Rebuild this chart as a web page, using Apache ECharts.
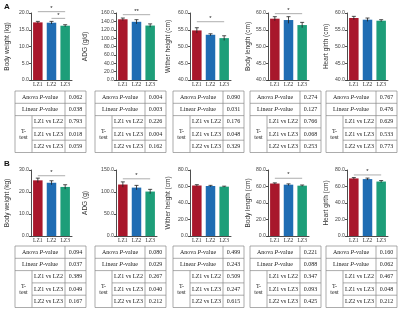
<!DOCTYPE html>
<html>
<head>
<meta charset="utf-8">
<script src="https://cdn.jsdelivr.net/npm/echarts@6/dist/echarts.min.js"></script>
<style>
  html, body { margin: 0; padding: 0; background: #fff; }
  #chart { width: 400px; height: 312px; }
</style>
</head>
<body>
<div id="chart"></div>
<script>
// groups and colours
const groups = ["LZ1", "LZ2", "LZ3"];
const barColors = ["#A8172B", "#1F6DB3", "#1D9E79"];

// panel A
const namesA = ["Body weight (kg)", "ADG (g/d)", "Wither height (cm)", "Body length (cm)", "Heart girth (cm)"];
const meansA = [[17.2, 17.1, 16.2], [145, 139, 130], [54.8, 53.5, 52.5], [58.3, 57.9, 56.4], [58.5, 58.0, 57.7]];
const errA = [[0.3, 0.4, 0.3], [3, 5, 4], [0.8, 0.3, 0.7], [0.6, 1.0, 0.8], [0.5, 0.5, 0.3]];
const minA = [0, 0, 40, 40, 40];
const maxA = [20, 160, 60, 60, 60];
const stepA = [5, 20, 5, 5, 5];
const sigA = [[[0, 2, 20.4, "*"], [1, 2, 18.4, "*"]], [[0, 2, 156, "**"]], [[0, 2, 57.4, "*"]], [[0, 2, 59.8, "*"]], []];

// panel B
const namesB = ["Body weight (kg)", "ADG (g)", "Wither height (cm)", "Body length (cm)", "Heart girth (cm)"];
const meansB = [[25.3, 24.2, 22.3], [117, 110, 101], [61.2, 60.6, 59.8], [63.6, 62.2, 61.0], [69.8, 69.0, 66.0]];
const errB = [[1.0, 0.9, 1.0], [6, 5, 5], [1.0, 0.8, 0.6], [0.8, 1.0, 0.8], [1.0, 1.2, 1.2]];
const minB = [0, 0, 0, 0, 0];
const maxB = [30, 150, 80, 80, 80];
const stepB = [10, 50, 20, 20, 20];
const sigB = [[[0, 2, 27.4, "*"]], [[0, 2, 130, "*"]], [], [[0, 2, 70, "*"]], [[0, 2, 74, "*"]]];

// p-value tables
const anovaA = ["0.062", "0.004", "0.090", "0.274", "0.767"];
const linearA = ["0.038", "0.003", "0.031", "0.127", "0.476"];
const t12A = ["0.793", "0.226", "0.176", "0.766", "0.629"];
const t13A = ["0.018", "0.004", "0.048", "0.068", "0.533"];
const t23A = ["0.059", "0.162", "0.329", "0.253", "0.773"];
const anovaB = ["0.094", "0.080", "0.499", "0.221", "0.160"];
const linearB = ["0.037", "0.029", "0.243", "0.088", "0.062"];
const t12B = ["0.389", "0.267", "0.509", "0.347", "0.467"];
const t13B = ["0.049", "0.040", "0.247", "0.093", "0.048"];
const t23B = ["0.167", "0.212", "0.615", "0.425", "0.212"];

const chart = echarts.init(document.getElementById("chart"), null, { renderer: "canvas" });

const xLeft = [31, 116, 190, 268, 347];
const nameGaps = [20, 27, 18, 16, 17];
const rows = [
  { top: 13, height: 67, names: namesA, means: meansA, err: errA, min: minA, max: maxA, step: stepA, sig: sigA },
  { top: 170, height: 66, names: namesB, means: meansB, err: errB, min: minB, max: maxB, step: stepB, sig: sigB },
];

const grid = [], xAxis = [], yAxis = [], series = [];

rows.forEach((r, ri) => {
  for (let c = 0; c < 5; c++) {
    const k = ri * 5 + c;
    grid.push({ left: xLeft[c], top: r.top, width: 41, height: r.height });
    xAxis.push({
      type: "category", gridIndex: k, data: groups,
      axisLine: { lineStyle: { color: "#222", width: 0.8 } },
      axisTick: { show: false },
      axisLabel: { fontSize: 5.5, fontFamily: "Liberation Serif", color: "#333", margin: 2 },
    });
    yAxis.push({
      type: "value", gridIndex: k, min: r.min[c], max: r.max[c], interval: r.step[c],
      name: r.names[c], nameLocation: "middle", nameRotate: 90, nameGap: nameGaps[c],
      nameTextStyle: { fontSize: 6.5, fontFamily: "Liberation Sans", color: "#333" },
      axisLine: { show: true, lineStyle: { color: "#222", width: 0.8 } },
      axisTick: { show: true, length: 2, lineStyle: { color: "#222", width: 0.8 } },
      axisLabel: { fontSize: 5.2, fontFamily: "Liberation Sans", color: "#444", margin: 2,
        formatter: (v) => v.toFixed(1) },
      splitLine: { show: false },
    });
    series.push({
      type: "bar", xAxisIndex: k, yAxisIndex: k, barWidth: 9.5,
      data: r.means[c].map((v, i) => ({ value: v, itemStyle: { color: barColors[i] } })),
    });
    // error bars
    series.push({
      type: "custom", xAxisIndex: k, yAxisIndex: k, z: 5,
      data: r.means[c].map((v, i) => [i, v, r.err[c][i]]),
      encode: { x: 0, y: 1 },
      renderItem: (params, api) => {
        const i = api.value(0), m = api.value(1), s = api.value(2);
        const hi = api.coord([i, m + s]);
        const lo = api.coord([i, m - s]);
        const st = { stroke: "#222", lineWidth: 0.8 };
        return {
          type: "group", children: [
            { type: "line", shape: { x1: hi[0], y1: hi[1], x2: lo[0], y2: lo[1] }, style: st },
            { type: "line", shape: { x1: hi[0] - 2, y1: hi[1], x2: hi[0] + 2, y2: hi[1] }, style: st },
          ],
        };
      },
    });
    // significance brackets
    const sg = r.sig[c];
    if (sg.length) {
      series.push({
        type: "custom", xAxisIndex: k, yAxisIndex: k, z: 6, clip: false,
        data: sg.map((s) => [s[0], s[2], s[1]]),
        encode: { x: 0, y: 1 },
        renderItem: (params, api) => {
          const s = sg[params.dataIndex];
          const p1 = api.coord([s[0], s[2]]);
          const p2 = api.coord([s[1], s[2]]);
          return {
            type: "group", children: [
              { type: "line", shape: { x1: p1[0], y1: p1[1], x2: p2[0], y2: p2[1] },
                style: { stroke: "#999", lineWidth: 0.8 } },
              { type: "text", x: (p1[0] + p2[0]) / 2, y: p1[1] - 0.5,
                style: { text: s[3], fontSize: 6, fill: "#222", align: "center", verticalAlign: "bottom" } },
            ],
          };
        },
      });
    }
  }
});

// tables drawn with graphic elements
const tableX = [15, 95, 173, 250, 326];
const tableW = 71, labelW = 50, tW = 17, rowH = 12.3;
const tables = [
  { top: 91, vals: [anovaA, linearA, t12A, t13A, t23A] },
  { top: 246, vals: [anovaB, linearB, t12B, t13B, t23B] },
];
const rowLabels = ["Anova {i|P}-value", "Linear {i|P}-value", "LZ1 vs LZ2", "LZ1 vs LZ3", "LZ2 vs LZ3"];
const graphic = [];
const lineSt = { stroke: "#888", lineWidth: 0.7 };
const txt = (x, y, text) => ({
  type: "text", x: x, y: y, silent: true,
  style: { text: text, fontSize: 6, fontFamily: "Liberation Serif", fill: "#222",
    align: "center", verticalAlign: "middle",
    rich: { i: { fontStyle: "italic", fontSize: 6, fontFamily: "Liberation Serif", fill: "#222" } } },
});
tables.forEach((t) => {
  tableX.forEach((x0, c) => {
    const h = rowH * 5;
    graphic.push({ type: "rect", shape: { x: x0, y: t.top, width: tableW, height: h }, style: { fill: "none", ...lineSt } });
    graphic.push({ type: "line", shape: { x1: x0 + labelW, y1: t.top, x2: x0 + labelW, y2: t.top + h }, style: lineSt });
    graphic.push({ type: "line", shape: { x1: x0 + tW, y1: t.top + rowH * 2, x2: x0 + tW, y2: t.top + h }, style: lineSt });
    for (let r = 1; r < 5; r++) {
      const y = t.top + rowH * r;
      const xs = r >= 3 ? x0 + tW : x0;
      graphic.push({ type: "line", shape: { x1: xs, y1: y, x2: x0 + tableW, y2: y }, style: lineSt });
    }
    for (let r = 0; r < 5; r++) {
      const yc = t.top + rowH * (r + 0.5);
      const lx = r < 2 ? x0 + labelW / 2 : x0 + tW + (labelW - tW) / 2;
      graphic.push(txt(lx, yc, rowLabels[r]));
      graphic.push(txt(x0 + labelW + (tableW - labelW) / 2, yc, t.vals[r][c]));
    }
    graphic.push(txt(x0 + tW / 2, t.top + rowH * 3.5, "T-\ntest"));
  });
});
graphic.push({ type: "text", x: 4, y: 3, style: { text: "A", fontSize: 8, fontWeight: "bold", fontFamily: "Liberation Sans", fill: "#111" } });
graphic.push({ type: "text", x: 4, y: 160, style: { text: "B", fontSize: 8, fontWeight: "bold", fontFamily: "Liberation Sans", fill: "#111" } });

chart.setOption({ animation: false, grid, xAxis, yAxis, series, graphic });
</script>
</body>
</html>
